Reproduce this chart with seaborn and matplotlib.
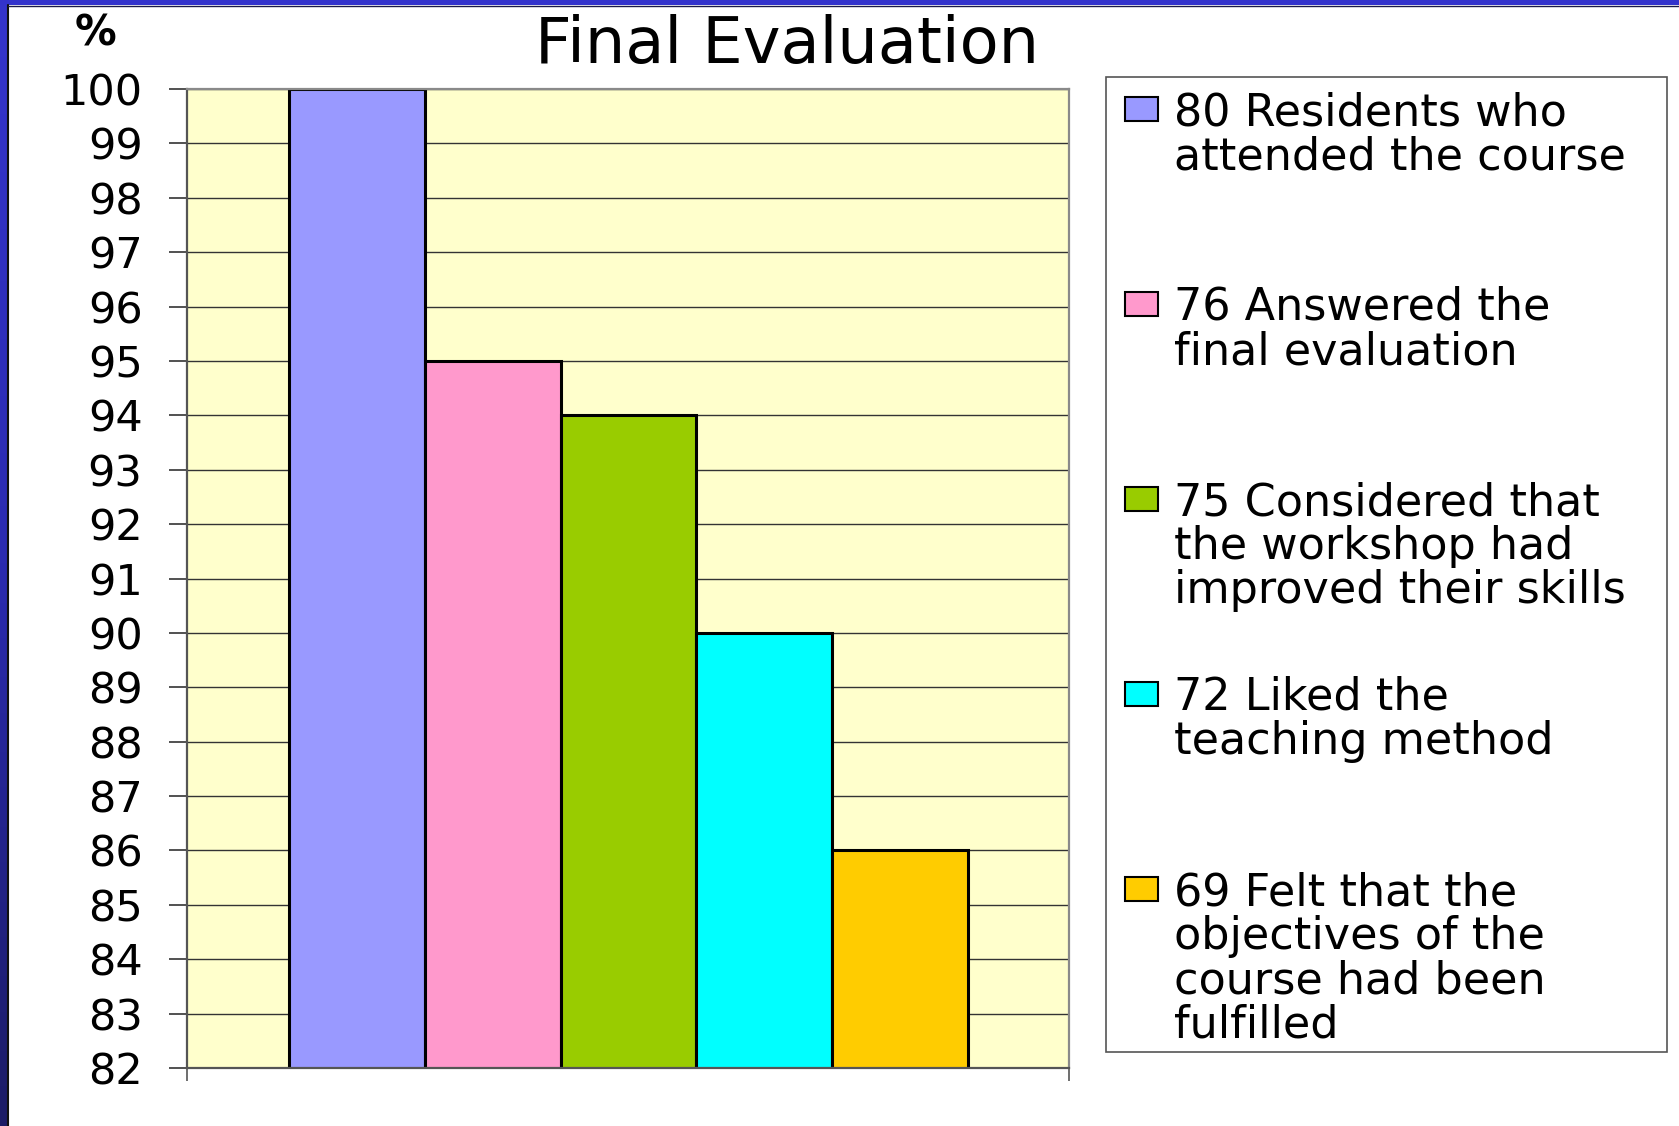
import numpy as np
import pandas as pd
import matplotlib
matplotlib.use('Agg')
import matplotlib.pyplot as plt
import seaborn as sns
from matplotlib.colors import LinearSegmentedColormap
from matplotlib.patches import Rectangle
from matplotlib.lines import Line2D

# Данные
groups = ['80 Residents who\nattended the course',
          '76 Answered the\nfinal evaluation',
          '75 Considered that\nthe workshop had\nimproved their skills',
          '72 Liked the\nteaching method',
          '69 Felt that the\nobjectives of the\ncourse had been\nfulfilled']
percent = [100, 95, 94, 90, 86]
bar_colors = ['#9999FF', '#FF99CC', '#99CC00', '#00FFFF', '#FFCC00']
y_ticks = list(range(82, 101))

sns.set_theme(style='white')
plt.rcParams['font.family'] = ['DejaVu Sans']

W, H = 1679, 1126


def fx(px):
    return px / W


def fy(py):
    return 1 - py / H


fig = plt.figure(figsize=(W / 100, H / 100), dpi=100)
fig.patch.set_facecolor('white')

# Основная область графика
ax = fig.add_axes([fx(187), fy(1068), fx(1069) - fx(187), fy(89) - fy(1068)])
ax.set_facecolor('#FFFFCC')
df = pd.DataFrame({'group': groups, 'percent': percent})
sns.barplot(data=df, x='group', y='percent', hue='group', palette=bar_colors,
            saturation=1, width=1.0, edgecolor='black', linewidth=2.2,
            legend=False, ax=ax)

xmin, xmax = -1.251, 5.244
ax.set_ylim(82, 100)
ax.set_yticks(y_ticks)
ax.set_xticks([xmin, xmax])
ax.set_xticklabels(['', ''])
ax.set_xlim(xmin, xmax)
ax.set_xlabel('')
ax.set_ylabel('')
ax.tick_params(axis='y', left=True, length=13, width=1.2, pad=19,
               color='#333333', labelsize=31, labelcolor='black')
ax.tick_params(axis='x', bottom=True, length=9, width=1.2, color='#555555')
ax.yaxis.grid(True, color='#333333', linewidth=1)
ax.set_axisbelow(True)
for side in ['top', 'right']:
    ax.spines[side].set_color('#8a8a8a')
    ax.spines[side].set_linewidth(1.6)
for side in ['left', 'bottom']:
    ax.spines[side].set_color('#555555')
    ax.spines[side].set_linewidth(1.6)

# Заголовок и подпись оси
fig.text(0.469, fy(45), 'Final Evaluation', ha='center', va='center',
         fontsize=46, color='black')
fig.text(fx(96), fy(34), '%', ha='center', va='center', fontsize=30,
         fontweight='bold', color='black')

# Легенда (ручная, как в исходном слайде)
fig.add_artist(Rectangle((fx(1106), fy(1052)), fx(1667) - fx(1106),
                         fy(77) - fy(1052), transform=fig.transFigure,
                         facecolor='white', edgecolor='#555555', lw=1.2))
for i, (lab, col) in enumerate(zip(groups, bar_colors)):
    cy = 109 + i * 195
    fig.add_artist(Rectangle((fx(1125), fy(cy + 12)), fx(1158) - fx(1125),
                             24 / H, transform=fig.transFigure,
                             facecolor=col, edgecolor='black', lw=1.5))
    fig.text(fx(1174), fy(cy - 18), lab, ha='left', va='top', fontsize=32,
             linespacing=1.03, color='black')

# Синяя рамка слайда
cmap = LinearSegmentedColormap.from_list(
    'slide', [(0, '#3535CC'), (0.5, '#2B2BB0'), (1, '#1C1C66')])
gax = fig.add_axes([0, 0, fx(7), 1])
gax.imshow(np.linspace(0, 1, 256)[:, None], aspect='auto', cmap=cmap)
gax.set_axis_off()
fig.add_artist(Rectangle((0, fy(5)), 1, 5 / H, transform=fig.transFigure,
                         facecolor='#3333CC', edgecolor='none'))
fig.add_artist(Line2D([fx(8), fx(8)], [0, fy(5)], transform=fig.transFigure,
                      color='#111111', lw=1.5))
fig.add_artist(Line2D([fx(8), 1], [fy(5.5), fy(5.5)],
                      transform=fig.transFigure, color='#1a1a4a', lw=1))

fig.savefig('out.png', dpi=100)
